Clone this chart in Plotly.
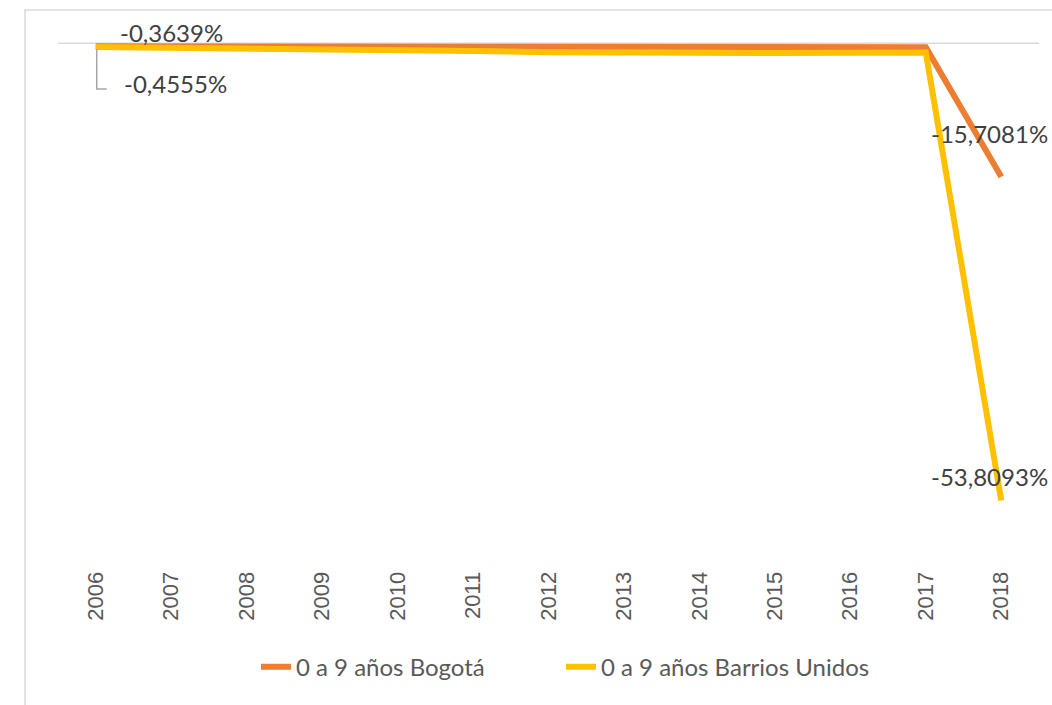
import plotly.graph_objects as go

years = [str(y) for y in range(2006, 2019)]
bogota = [-0.3639, -0.37, -0.38, -0.40, -0.42, -0.45, -0.48, -0.50, -0.52, -0.50, -0.48, -0.47, -15.7081]
barrios = [-0.4555, -0.52, -0.60, -0.70, -0.80, -0.92, -1.05, -1.12, -1.18, -1.16, -1.12, -1.10, -53.8093]
series_names = ["0 a 9 años Bogotá", "0 a 9 años Barrios Unidos"]
colors = ["#ED7D31", "#FFC000"]

def fmt(v):
    return f"{v:.4f}%".replace(".", ",")

fig = go.Figure()
for name, vals, col, lg in zip(series_names, [bogota, barrios], colors, ["legend", "legend2"]):
    fig.add_trace(go.Scatter(x=years, y=vals, mode="lines", name=name, legend=lg,
                             line=dict(color=col, width=6), cliponaxis=False))

label_font = dict(family="Lato, Open Sans, sans-serif", size=24, color="#404040")
# (series values, index, anchor, xshift, yshift)
labels = [(bogota, 0, "left", 22, 14), (barrios, 0, "left", 26, -36),
          (bogota, 12, "right", 49, 43), (barrios, 12, "right", 49, 24)]
for vals, i, anc, xs, ys in labels:
    fig.add_annotation(x=i, y=vals[i], text=fmt(vals[i]), showarrow=False,
                       xanchor=anc, yanchor="middle", xshift=xs, yshift=ys, font=label_font)

# leader line for first Barrios label (pixel offsets from the data point)
fig.add_shape(type="path", xref="x", yref="y", xsizemode="pixel", ysizemode="pixel",
              xanchor=0, yanchor=barrios[0], path="M 1,-2 L 1,-42 L 11,-42",
              line=dict(color="#A6A6A6", width=1.5))

# zero gridline
fig.add_shape(type="line", xref="paper", yref="y", x0=0, x1=1, y0=0, y1=0,
              line=dict(color="#D9D9D9", width=1.5), layer="below")
# chart border
fig.add_shape(type="rect", xref="paper", yref="paper", x0=-0.0336, x1=1.05, y0=-0.32, y1=1.0564,
              line=dict(color="#D9D9D9", width=1.5))

legend_font = dict(family="Lato, Open Sans, sans-serif", size=24, color="#595959")
fig.update_layout(
    width=1052, height=705,
    margin=dict(l=58, r=13, t=39, b=152),
    paper_bgcolor="white", plot_bgcolor="white",
    showlegend=True,
    legend=dict(orientation="h", x=0.2018, xanchor="left", y=-0.222, yanchor="middle",
                font=legend_font),
    legend2=dict(orientation="h", x=0.5127, xanchor="left", y=-0.222, yanchor="middle",
                 font=legend_font),
    xaxis=dict(type="category", range=[-0.5, 12.5], showgrid=False, zeroline=False,
               showline=False, tickangle=-90, ticks="outside", ticklen=9, tickcolor="rgba(0,0,0,0)",
               tickfont=dict(family="Liberation Sans, Arial, sans-serif", size=22, color="#595959")),
    yaxis=dict(range=[-60, 0.5], showgrid=False, zeroline=False, showticklabels=False, showline=False),
)

fig.write_html("out.html", config={"displayModeBar": False},
               post_script="document.body.style.margin='0';")
